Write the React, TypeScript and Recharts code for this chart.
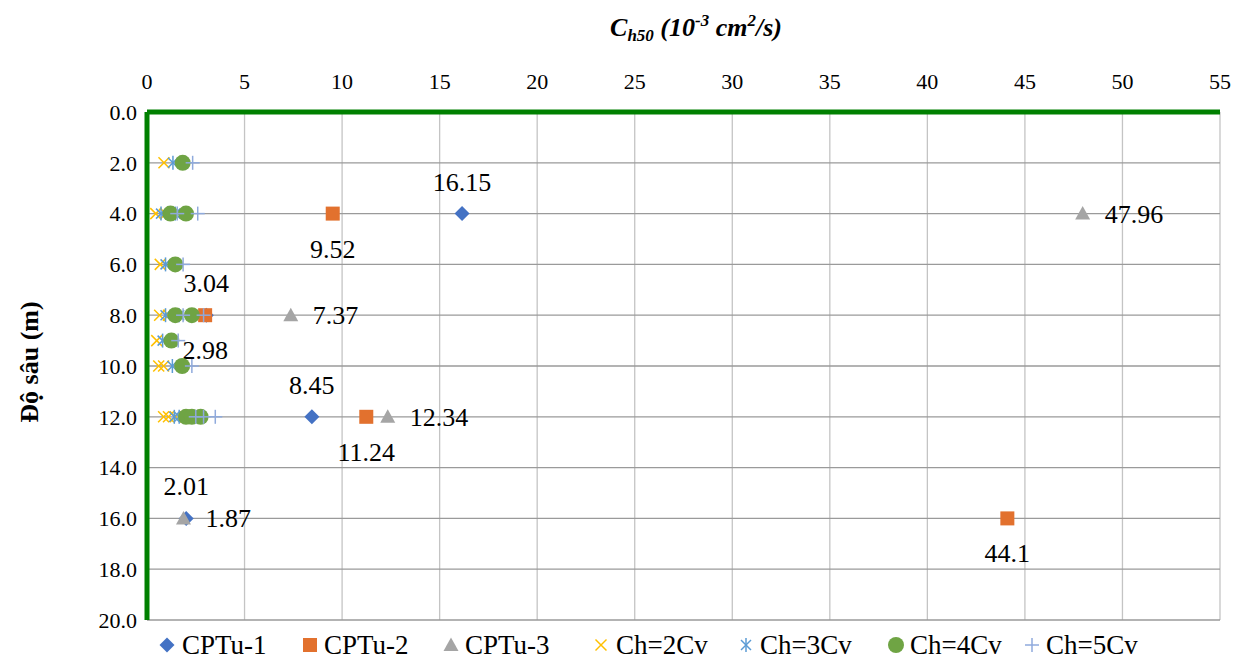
import React from 'react';
import { ScatterChart, Scatter, XAxis, YAxis, CartesianGrid, Legend } from 'recharts';

const xTicks = [0, 5, 10, 15, 20, 25, 30, 35, 40, 45, 50, 55];
const yTicks = [0, 2, 4, 6, 8, 10, 12, 14, 16, 18, 20];

const cptu1 = [
  { x: 16.15, y: 4 },
  { x: 3.04, y: 8 },
  { x: 8.45, y: 12 },
  { x: 2.01, y: 16 },
];
const cptu2 = [
  { x: 9.52, y: 4 },
  { x: 2.98, y: 8 },
  { x: 11.24, y: 12 },
  { x: 44.1, y: 16 },
];
const cptu3 = [
  { x: 47.96, y: 4 },
  { x: 7.37, y: 8 },
  { x: 12.34, y: 12 },
  { x: 1.87, y: 16 },
];
const ch2 = [
  { x: 0.87, y: 2 },
  { x: 0.45, y: 4 }, { x: 0.95, y: 4 },
  { x: 0.68, y: 6 },
  { x: 0.65, y: 8 }, { x: 1.1, y: 8 },
  { x: 0.5, y: 9 },
  { x: 0.6, y: 10 }, { x: 0.85, y: 10 },
  { x: 0.85, y: 12 }, { x: 1.1, y: 12 }, { x: 1.45, y: 12 },
];
const ch3 = [
  { x: 1.33, y: 2 },
  { x: 0.72, y: 4 }, { x: 1.45, y: 4 },
  { x: 0.95, y: 6 },
  { x: 0.95, y: 8 }, { x: 1.65, y: 8 },
  { x: 0.8, y: 9 },
  { x: 1.3, y: 10 },
  { x: 1.4, y: 12 }, { x: 1.65, y: 12 }, { x: 1.95, y: 12 },
];
const ch4 = [
  { x: 1.83, y: 2 },
  { x: 1.2, y: 4 }, { x: 2.0, y: 4 },
  { x: 1.45, y: 6 },
  { x: 1.45, y: 8 }, { x: 2.3, y: 8 },
  { x: 1.25, y: 9 },
  { x: 1.8, y: 10 },
  { x: 2.0, y: 12 }, { x: 2.3, y: 12 }, { x: 2.75, y: 12 },
];
const ch5 = [
  { x: 2.34, y: 2 },
  { x: 1.55, y: 4 }, { x: 2.6, y: 4 },
  { x: 1.85, y: 6 },
  { x: 1.85, y: 8 }, { x: 2.9, y: 8 },
  { x: 1.6, y: 9 },
  { x: 2.3, y: 10 },
  { x: 2.5, y: 12 }, { x: 2.9, y: 12 }, { x: 3.5, y: 12 },
];

const seriesNames = ['CPTu-1', 'CPTu-2', 'CPTu-3', 'Ch=2Cv', 'Ch=3Cv', 'Ch=4Cv', 'Ch=5Cv'];

const C1 = '#4472C4';
const C2 = '#E2712E';
const C3 = '#A5A5A5';
const C4 = '#FFC000';
const C5 = '#5B9BD5';
const C6 = '#6FA444';
const C7 = '#8FAADC';

const FONT = 'Liberation Serif, DejaVu Serif, serif';
const LABEL_SIZE = 26;
const LEGEND_SIZE = 27;

type MarkerKind = 'diamond' | 'square' | 'triangle' | 'x' | 'star' | 'circle' | 'plus';

function Marker({ kind, cx, cy }: { kind: MarkerKind; cx: number; cy: number }) {
  switch (kind) {
    case 'diamond':
      return <polygon points={`${cx},${cy - 7.5} ${cx + 7.5},${cy} ${cx},${cy + 7.5} ${cx - 7.5},${cy}`} fill={C1} />;
    case 'square':
      return <rect x={cx - 7} y={cy - 7} width={14} height={14} fill={C2} />;
    case 'triangle':
      return <polygon points={`${cx},${cy - 7.5} ${cx + 7.5},${cy + 6} ${cx - 7.5},${cy + 6}`} fill={C3} />;
    case 'x':
      return (
        <g stroke={C4} strokeWidth={1.5}>
          <line x1={cx - 5.5} y1={cy - 5.5} x2={cx + 5.5} y2={cy + 5.5} />
          <line x1={cx - 5.5} y1={cy + 5.5} x2={cx + 5.5} y2={cy - 5.5} />
        </g>
      );
    case 'star':
      return (
        <g stroke={C5} strokeWidth={1.5}>
          <line x1={cx - 5} y1={cy - 5} x2={cx + 5} y2={cy + 5} />
          <line x1={cx - 5} y1={cy + 5} x2={cx + 5} y2={cy - 5} />
          <line x1={cx} y1={cy - 7} x2={cx} y2={cy + 7} />
        </g>
      );
    case 'circle':
      return <circle cx={cx} cy={cy} r={8} fill={C6} />;
    case 'plus':
    default:
      return (
        <g stroke={C7} strokeWidth={1.5}>
          <line x1={cx - 7} y1={cy} x2={cx + 7} y2={cy} />
          <line x1={cx} y1={cy - 7} x2={cx} y2={cy + 7} />
        </g>
      );
  }
}

type LabelPos = 'top' | 'bottom' | 'right' | 'none';

function makeShape(kind: MarkerKind, labelPos: LabelPos) {
  return (props: any) => {
    const { cx, cy, payload } = props;
    if (cx == null || cy == null) return <g />;
    let label: React.ReactNode = null;
    const txt = String(payload?.x);
    const common = { fontFamily: FONT, fontSize: LABEL_SIZE, fill: '#000', style: { fontFamily: FONT } };
    if (labelPos === 'top') {
      label = (
        <text x={cx} y={cy - 23} textAnchor="middle" {...common}>
          {txt}
        </text>
      );
    } else if (labelPos === 'bottom') {
      label = (
        <text x={cx} y={cy + 44} textAnchor="middle" {...common}>
          {txt}
        </text>
      );
    } else if (labelPos === 'right') {
      label = (
        <text x={cx + 22} y={cy + 9} textAnchor="start" {...common}>
          {txt}
        </text>
      );
    }
    return (
      <g>
        <Marker kind={kind} cx={cx} cy={cy} />
        {label}
      </g>
    );
  };
}

const legendItems: { name: string; kind: MarkerKind; mx: number; tx: number }[] = [
  { name: seriesNames[0], kind: 'diamond', mx: 167, tx: 182 },
  { name: seriesNames[1], kind: 'square', mx: 310, tx: 324 },
  { name: seriesNames[2], kind: 'triangle', mx: 451, tx: 465 },
  { name: seriesNames[3], kind: 'x', mx: 601, tx: 616 },
  { name: seriesNames[4], kind: 'star', mx: 746, tx: 760 },
  { name: seriesNames[5], kind: 'circle', mx: 896, tx: 910 },
  { name: seriesNames[6], kind: 'plus', mx: 1032, tx: 1046 },
];

function LegendContent() {
  return (
    <svg width={1237} height={32} style={{ display: 'block' }}>
      {legendItems.map((it) => (
        <g key={it.name}>
          <Marker kind={it.kind} cx={it.mx} cy={15} />
          <text x={it.tx} y={24} fontFamily={FONT} fontSize={LEGEND_SIZE} fill="#000" style={{ fontFamily: FONT }}>
            {it.name}
          </text>
        </g>
      ))}
    </svg>
  );
}

function XTitle() {
  return (
    <text x={696} y={36} textAnchor="middle" fontFamily={FONT} fontSize={26} fontWeight="bold" fontStyle="italic" fill="#000" style={{ fontFamily: FONT }}>
      <tspan>C</tspan>
      <tspan fontSize={17} dy={5}>h50</tspan>
      <tspan dy={-5}> (10</tspan>
      <tspan fontSize={17} dy={-10}>-3</tspan>
      <tspan dy={10}> cm</tspan>
      <tspan fontSize={17} dy={-10}>2</tspan>
      <tspan dy={10}>/s)</tspan>
    </text>
  );
}

function YTitle() {
  return (
    <text
      x={38}
      y={362}
      transform="rotate(-90, 38, 362)"
      textAnchor="middle"
      fontFamily={FONT}
      fontSize={26}
      fontWeight="bold"
      fill="#000"
      style={{ fontFamily: FONT }}
    >
      Độ sâu (m)
    </text>
  );
}

export default function App() {
  return (
    <div style={{ position: 'absolute', left: 0, top: 0, width: 1237, height: 662, background: '#fff', fontFamily: FONT }}>
      <ScatterChart width={1237} height={662} margin={{ top: 8, left: 8, right: 17, bottom: 42 }} style={{ fontFamily: FONT }}>
        <CartesianGrid horizontal={false} vertical={true} stroke="#c4c4c4" strokeWidth={1.3} />
        <CartesianGrid horizontal={true} vertical={false} stroke="#9a9a9a" strokeWidth={1.3} />
        <XAxis
          type="number"
          dataKey="x"
          orientation="top"
          domain={[0, 55]}
          ticks={xTicks}
          interval={0}
          height={104}
          tickSize={0}
          tickMargin={23}
          tickLine={false}
          axisLine={{ stroke: '#008000', strokeWidth: 5 }}
          tick={{ fill: '#000', fontSize: 22, fontFamily: FONT, style: { fontFamily: FONT } }}
          allowDataOverflow
          label={() => <XTitle />}
        />
        <YAxis
          type="number"
          dataKey="y"
          domain={[0, 20]}
          reversed
          ticks={yTicks}
          interval={0}
          width={139}
          tickSize={0}
          tickMargin={10}
          tickLine={false}
          tickFormatter={(v: number) => v.toFixed(1)}
          axisLine={{ stroke: '#008000', strokeWidth: 5 }}
          tick={{ fill: '#000', fontSize: 22, fontFamily: FONT, style: { fontFamily: FONT } }}
          allowDataOverflow
          label={() => <YTitle />}
        />
        <Legend
          layout="horizontal"
          verticalAlign="middle"
          align="center"
          wrapperStyle={{ position: 'absolute', top: 630, left: 0, width: 1237, height: 32 }}
          content={() => <LegendContent />}
        />
        <Scatter name={seriesNames[0]} data={cptu1} shape={makeShape('diamond', 'top')} isAnimationActive={false} />
        <Scatter name={seriesNames[1]} data={cptu2} shape={makeShape('square', 'bottom')} isAnimationActive={false} />
        <Scatter name={seriesNames[2]} data={cptu3} shape={makeShape('triangle', 'right')} isAnimationActive={false} />
        <Scatter name={seriesNames[3]} data={ch2} shape={makeShape('x', 'none')} isAnimationActive={false} />
        <Scatter name={seriesNames[4]} data={ch3} shape={makeShape('star', 'none')} isAnimationActive={false} />
        <Scatter name={seriesNames[5]} data={ch4} shape={makeShape('circle', 'none')} isAnimationActive={false} />
        <Scatter name={seriesNames[6]} data={ch5} shape={makeShape('plus', 'none')} isAnimationActive={false} />
      </ScatterChart>
    </div>
  );
}
